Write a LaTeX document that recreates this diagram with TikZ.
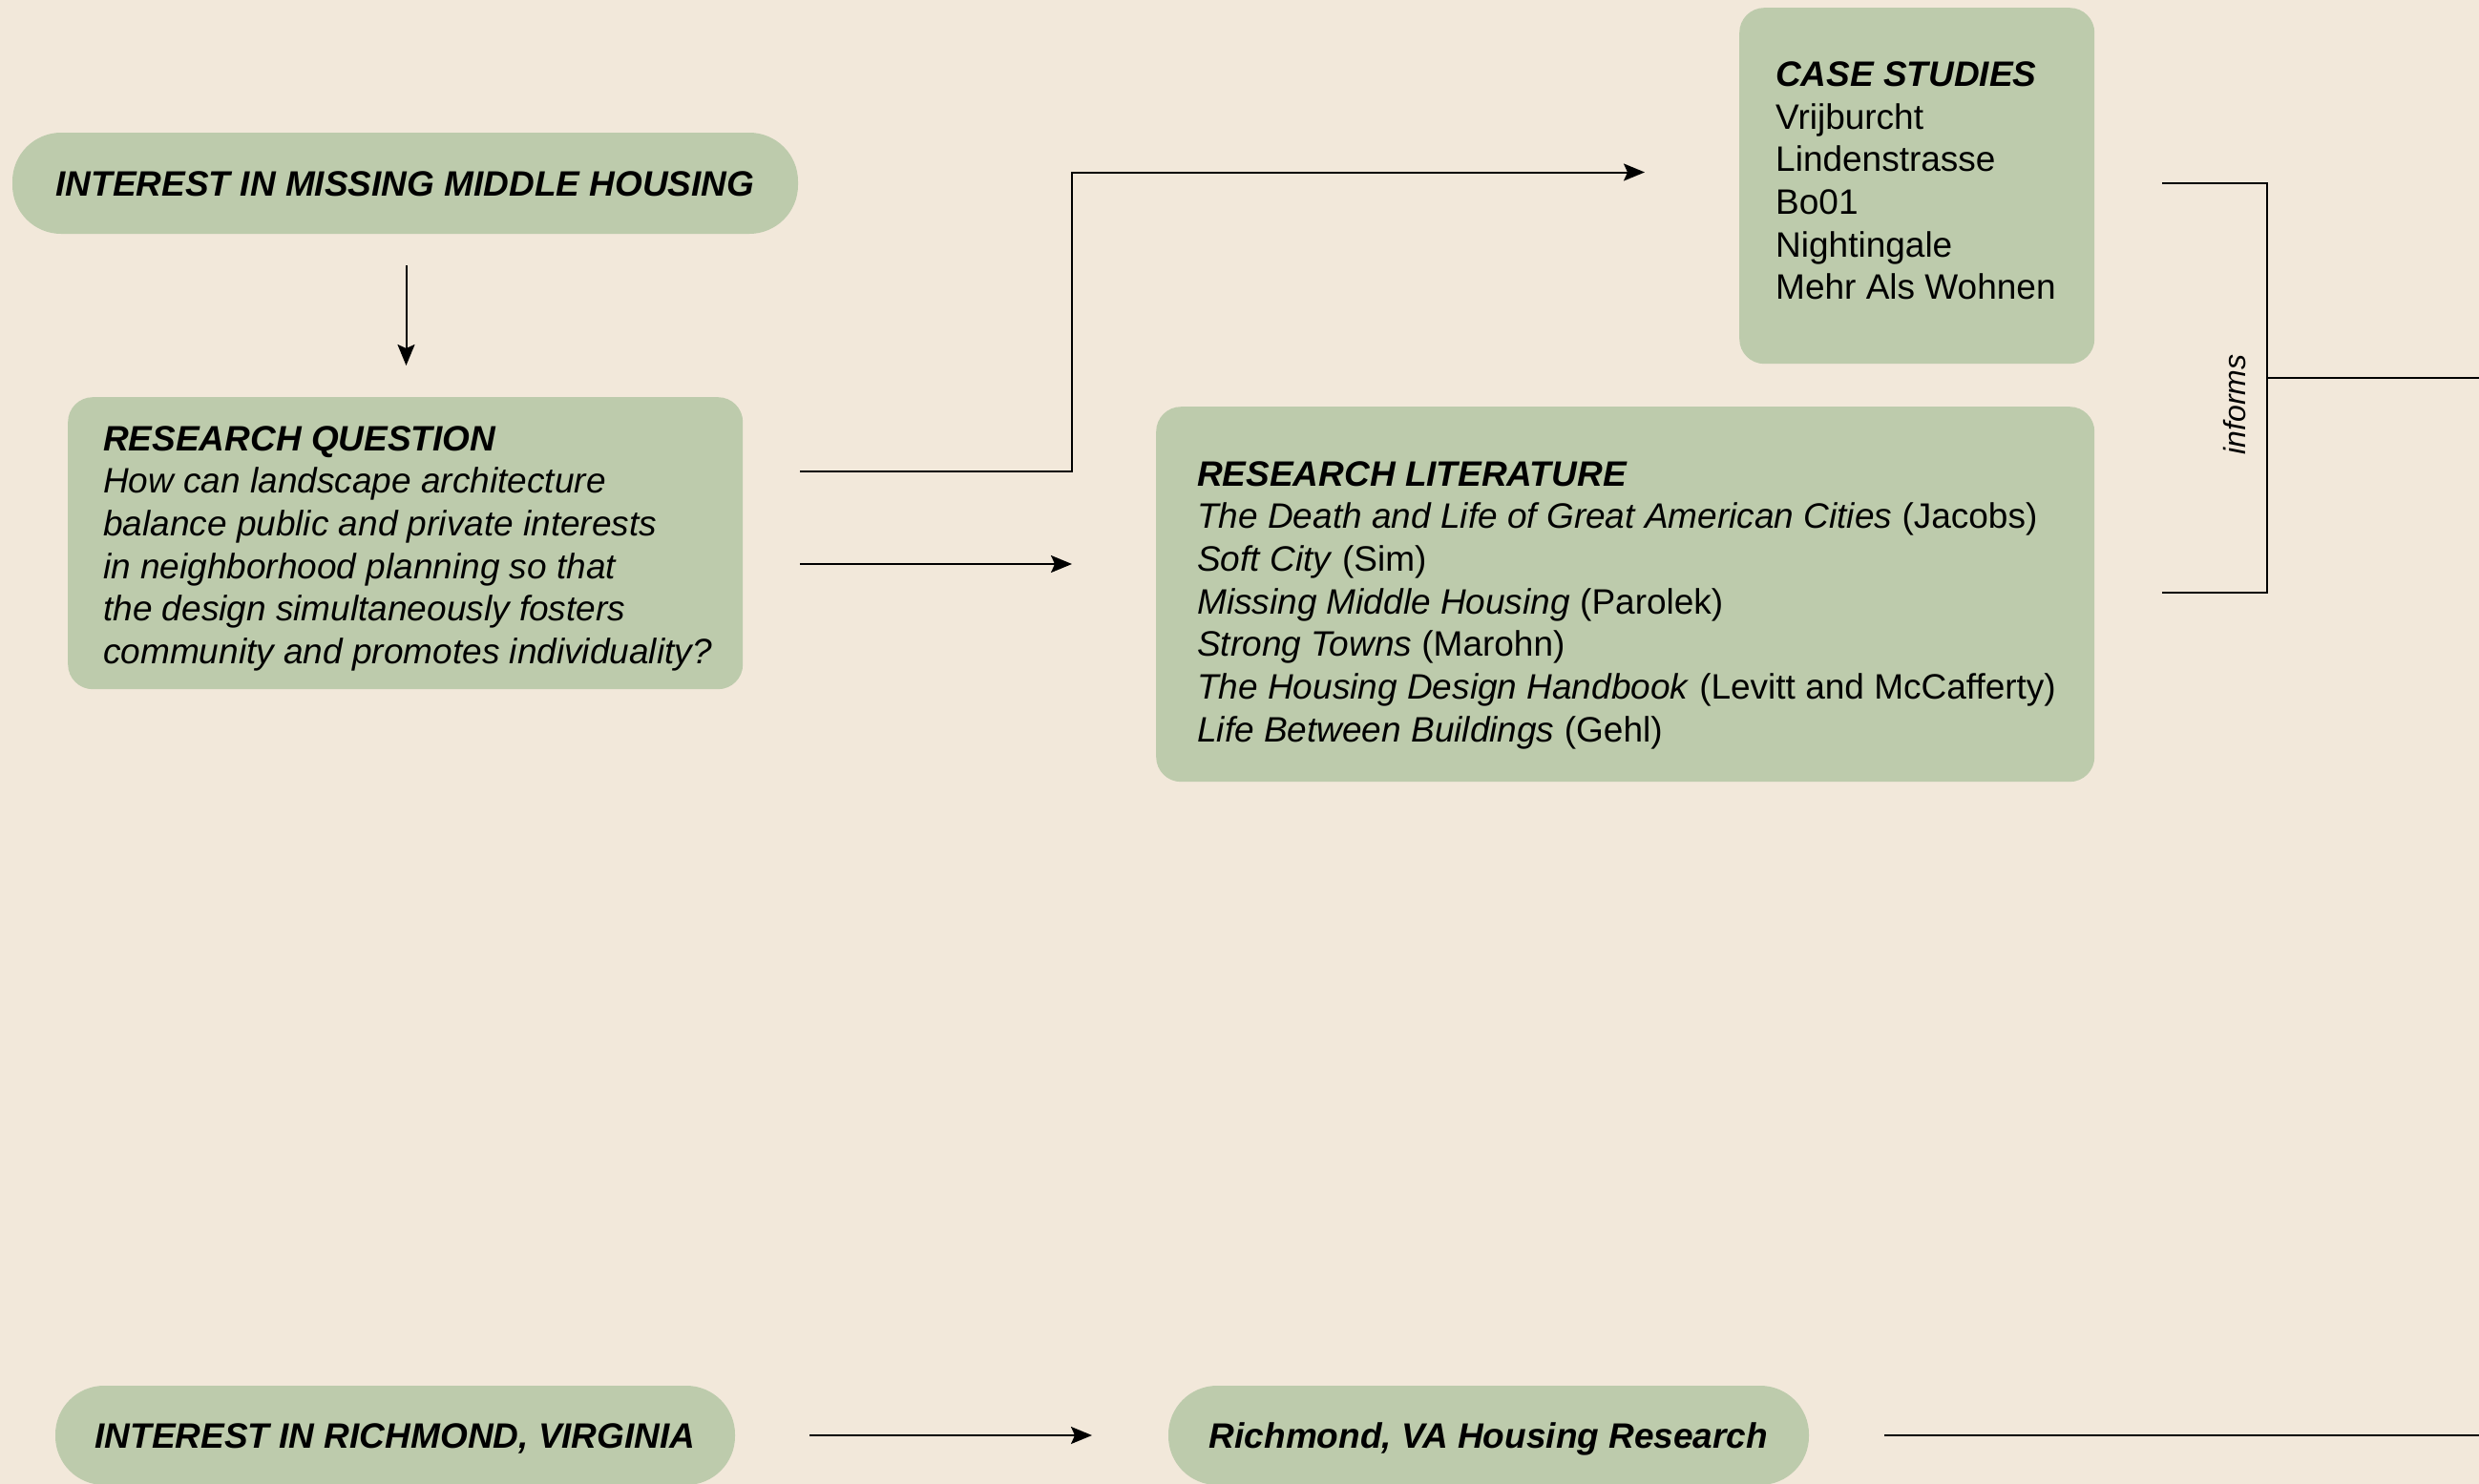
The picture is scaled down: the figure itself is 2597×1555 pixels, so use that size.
\documentclass[tikz,border=0pt]{standalone}
\usepackage{fontspec}
\setmainfont{Liberation Sans}
\usetikzlibrary{arrows.meta}
\definecolor{bgbeige}{HTML}{F2E8DA}
\definecolor{sage}{HTML}{BDCBAC}
\begin{document}
\begin{tikzpicture}[x=1pt,y=-1pt,
  font=\fontsize{37}{44.7}\selectfont,
  arr/.style={line width=2pt, -{Stealth[length=22pt,width=18pt,inset=4pt]}},
  conn/.style={line width=2pt},
  pill/.style={fill=sage, rounded corners=51pt, inner sep=0pt, text height=26.5pt, text depth=0pt,
    font=\fontsize{37}{44.7}\selectfont\bfseries\itshape},
  panel/.style={fill=sage, rounded corners=26pt, inner sep=0pt, anchor=north west},
  txt/.style={anchor=base west, inner sep=0pt}]
\fill[bgbeige] (0,0) rectangle (2597,1555);
\useasboundingbox (0,0) rectangle (2597,1555);

% top pill
\node[pill, minimum width=823pt, minimum height=106pt] (mmh) at (424.5,192) {INTEREST IN MISSING MIDDLE HOUSING};
\coordinate (d1) at (425.5,278);
\coordinate (d2) at (425.5,383);
\draw[arr] (d1) -- (d2);

% research question
\node[panel, minimum width=707pt, minimum height=306pt] (rq) at (71,416) {};
\node[txt] (rqt) at (108,472) {\vtop{\itshape
  \hbox{\bfseries RESEARCH QUESTION}
  \hbox{How can landscape architecture}
  \hbox{balance public and private interests}
  \hbox{in neighborhood planning so that}
  \hbox{the design simultaneously fosters}
  \hbox{community and promotes individuality?}}};

% case studies
\node[panel, minimum width=372pt, minimum height=373pt] (cs) at (1822,8) {};
\node[txt] (cst) at (1860,90.5) {\vtop{
  \hbox{\bfseries\itshape CASE STUDIES}
  \hbox{Vrijburcht}
  \hbox{Lindenstrasse}
  \hbox{Bo01}
  \hbox{Nightingale}
  \hbox{Mehr Als Wohnen}}};

% research literature
\node[panel, minimum width=983pt, minimum height=393pt] (rl) at (1211,426) {};
\node[txt] (rlt) at (1254,509) {\vtop{
  \hbox{\bfseries\itshape RESEARCH LITERATURE}
  \hbox{\textit{The Death and Life of Great American Cities} (Jacobs)}
  \hbox{\textit{Soft City} (Sim)}
  \hbox{\textit{Missing Middle Housing} (Parolek)}
  \hbox{\textit{Strong Towns} (Marohn)}
  \hbox{\textit{The Housing Design Handbook} (Levitt and McCafferty)}
  \hbox{\textit{Life Between Buildings} (Gehl)}}};

% connectors from research question
\coordinate (q1) at (838,494);
\coordinate (c1) at (1723,180.5);
\draw[arr] (q1) -- (1123,494) -- (1123,180.5) -- (c1);
\coordinate (q2) at (838,591);
\coordinate (l1) at (1123,591);
\draw[arr] (q2) -- (l1);

% bracket
\coordinate (b1) at (2265,192);
\coordinate (b2) at (2265,621);
\coordinate (bm) at (2375,395.5);
\coordinate (bo) at (2600,395.5);
\draw[conn] (b1) -- (2375,192) -- (2375,621) -- (b2);
\draw[conn] (bm) -- (bo);
\node[rotate=90, inner sep=0pt, font=\fontsize{32}{38}\selectfont\itshape] (inf) at (2341,424) {informs};

% bottom row
\node[pill, minimum width=712pt, minimum height=104pt] (ri) at (414,1504) {INTEREST IN RICHMOND, VIRGINIA};
\node[pill, minimum width=671pt, minimum height=104pt] (rv) at (1559.5,1504) {Richmond, VA Housing Research};
\coordinate (a1) at (848,1504);
\coordinate (a2) at (1144,1504);
\draw[arr] (a1) -- (a2);
\coordinate (e1) at (1974,1504);
\coordinate (e2) at (2600,1504);
\draw[conn] (e1) -- (e2);
\end{tikzpicture}
\end{document}
